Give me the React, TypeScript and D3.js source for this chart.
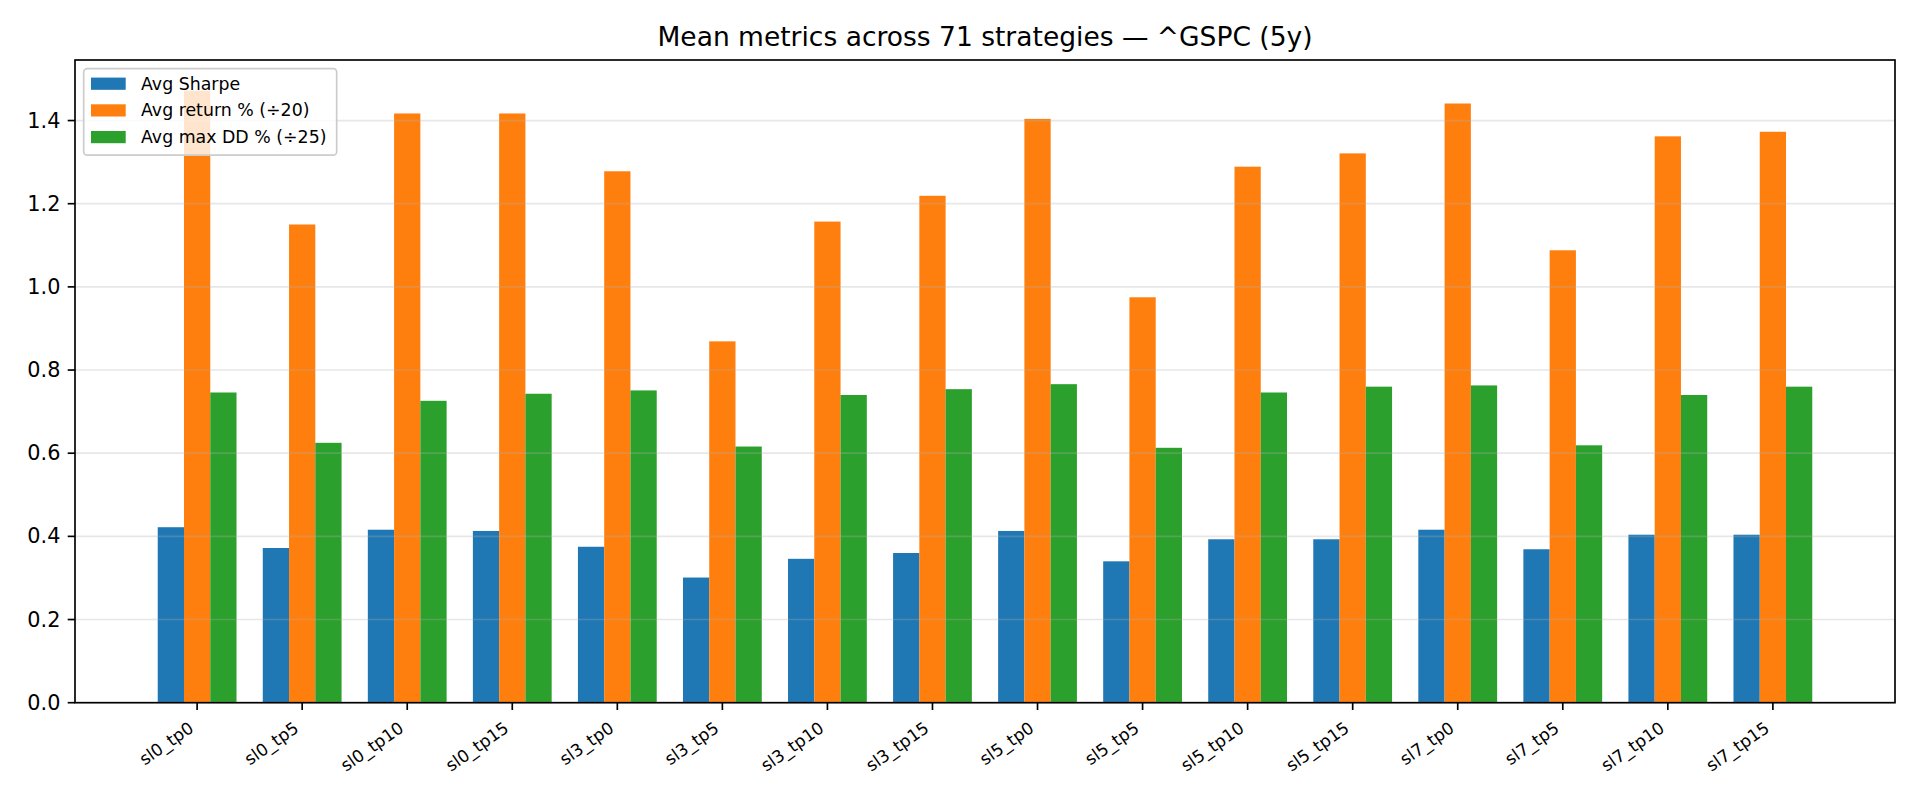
import React from "react";
import * as d3 from "d3";

// strategy labels (x axis)
const strategies = [
  "sl0_tp0", "sl0_tp5", "sl0_tp10", "sl0_tp15",
  "sl3_tp0", "sl3_tp5", "sl3_tp10", "sl3_tp15",
  "sl5_tp0", "sl5_tp5", "sl5_tp10", "sl5_tp15",
  "sl7_tp0", "sl7_tp5", "sl7_tp10", "sl7_tp15",
];

const avgSharpe = [
  0.422, 0.372, 0.416, 0.413, 0.375, 0.301, 0.346, 0.360,
  0.413, 0.340, 0.393, 0.393, 0.416, 0.369, 0.404, 0.404,
];

// avg return % divided by 20
const avgReturn = [
  1.472, 1.150, 1.417, 1.417, 1.278, 0.869, 1.157, 1.219,
  1.404, 0.975, 1.289, 1.321, 1.441, 1.088, 1.362, 1.373,
];

// avg max drawdown % divided by 25
const avgMaxDD = [
  0.746, 0.625, 0.726, 0.743, 0.751, 0.616, 0.740, 0.754,
  0.766, 0.613, 0.746, 0.760, 0.763, 0.619, 0.740, 0.760,
];

const seriesNames = ["Avg Sharpe", "Avg return % (÷20)", "Avg max DD % (÷25)"];
const seriesColors = ["#1f77b4", "#ff7f0e", "#2ca02c"];
const yTicks = [0, 0.2, 0.4, 0.6, 0.8, 1.0, 1.2, 1.4];

const W = 1920;
const H = 800;
const plot = { left: 75, right: 1895, top: 60, bottom: 702.7 };
const barW = 0.25;
const font = "DejaVu Sans, sans-serif";

export default function App() {
  const series = [avgSharpe, avgReturn, avgMaxDD];
  const n = strategies.length;

  // matplotlib-style 5% margins around the bars
  const xMin = -1.5 * barW;
  const xMax = n - 1 + 1.5 * barW;
  const xPad = (xMax - xMin) * 0.05;
  const x = d3.scaleLinear().domain([xMin - xPad, xMax + xPad]).range([plot.left, plot.right]);

  const yMax = (d3.max(series.flat()) as number) * 1.05;
  const y = d3.scaleLinear().domain([0, yMax]).range([plot.bottom, plot.top]);

  const lw = 1.67;
  const tickLen = 7.3;

  // legend geometry (fontsize 'small')
  const lfs = 17.36;
  const legX = plot.left + 0.5 * lfs;
  const legY = plot.top + 0.5 * lfs;
  const legW = 253;
  const legH = 86.5;
  const rowY = (i: number) => 83.7 + i * 26.7;

  return (
    <svg
      width={W}
      height={H}
      style={{ position: "absolute", left: 0, top: 0, background: "#fff" }}
      fontFamily={font}
    >
      <rect x={0} y={0} width={W} height={H} fill="#fff" />

      {/* bars */}
      {series.map((vals, s) =>
        vals.map((v, i) => {
          const x0 = x(i + (s - 1) * barW - barW / 2);
          const x1 = x(i + (s - 1) * barW + barW / 2);
          return (
            <rect
              key={`${s}-${i}`}
              x={x0}
              y={y(v)}
              width={x1 - x0}
              height={y(0) - y(v)}
              fill={seriesColors[s]}
            />
          );
        })
      )}

      {/* horizontal grid (drawn over the bars, as matplotlib does) */}
      {yTicks.map((t) => (
        <line
          key={`g${t}`}
          x1={plot.left}
          x2={plot.right}
          y1={y(t)}
          y2={y(t)}
          stroke="#b0b0b0"
          strokeOpacity={0.3}
          strokeWidth={lw}
        />
      ))}

      {/* frame */}
      <rect
        x={plot.left}
        y={plot.top}
        width={plot.right - plot.left}
        height={plot.bottom - plot.top}
        fill="none"
        stroke="#000"
        strokeWidth={lw}
      />

      {/* y axis */}
      {yTicks.map((t) => (
        <g key={`y${t}`}>
          <line x1={plot.left - tickLen} x2={plot.left} y1={y(t)} y2={y(t)} stroke="#000" strokeWidth={lw} />
          <text
            x={plot.left - tickLen - 7.3}
            y={y(t)}
            textAnchor="end"
            dominantBaseline="central"
            fontSize={20.8}
            fill="#000"
          >
            {t.toFixed(1)}
          </text>
        </g>
      ))}

      {/* x axis */}
      {strategies.map((s, i) => (
        <g key={s}>
          <line x1={x(i)} x2={x(i)} y1={plot.bottom} y2={plot.bottom + tickLen} stroke="#000" strokeWidth={lw} />
          <text
            transform={`translate(${x(i) - 2.3},${plot.bottom + 28}) rotate(-35)`}
            textAnchor="end"
            fontSize={17}
            fill="#000"
          >
            {s}
          </text>
        </g>
      ))}

      {/* title */}
      <text x={(plot.left + plot.right) / 2} y={45.5} textAnchor="middle" fontSize={26.5} fill="#000">
        Mean metrics across 71 strategies — ^GSPC (5y)
      </text>

      {/* legend */}
      <rect
        x={legX}
        y={legY}
        width={legW}
        height={legH}
        rx={3.5}
        fill="#fff"
        fillOpacity={0.8}
        stroke="#cccccc"
        strokeWidth={lw}
      />
      {seriesNames.map((name, i) => (
        <g key={name}>
          <rect x={91} y={rowY(i) - 6.1} width={34.7} height={12.2} fill={seriesColors[i]} />
          <text x={141} y={rowY(i)} dominantBaseline="central" fontSize={lfs} fill="#000">
            {name}
          </text>
        </g>
      ))}
    </svg>
  );
}
